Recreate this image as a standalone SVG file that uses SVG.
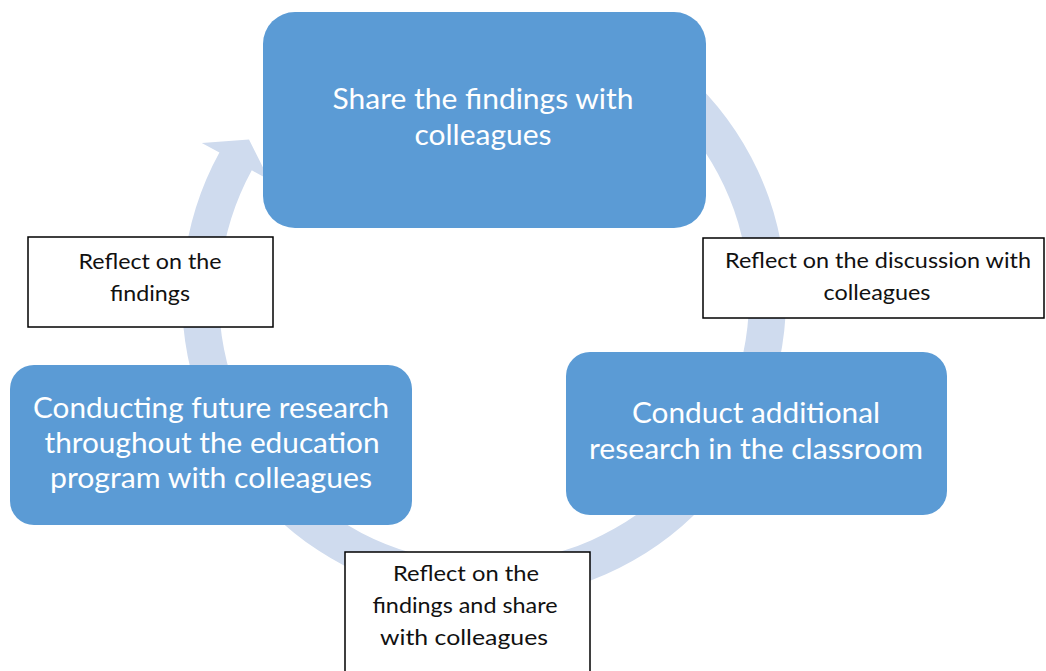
<svg xmlns="http://www.w3.org/2000/svg" width="1046" height="671" viewBox="0 0 1046 671">
  <style>
    .step { fill: #5B9BD5; }
    .step-label { font-family: Lato, "Open Sans", "Liberation Sans", sans-serif; font-size: 29px; fill: #FFFFFF; text-anchor: middle; }
    .note { fill: #FFFFFF; stroke: #000000; stroke-width: 1.5; }
    .note-label { font-family: Lato, "Open Sans", "Liberation Sans", sans-serif; font-size: 21px; fill: #111111; text-anchor: middle; }
    .cycle { fill: #CFDBEE; }
  </style>

  <rect width="1046" height="671" fill="#FFFFFF"/>

  <!-- clockwise cycle arrow behind the steps -->
  <g id="connectors">
    <path class="cycle" d="M 611.6 24.3 A 302 302 0 1 1 219.4 152.5 L 201.8 142.9 L 249 139.5 L 269.3 180 L 251.8 170.3 A 265 265 0 1 0 596 57.8 Z"/>
  </g>

  <g id="step-share">
    <rect class="step" x="263" y="12" width="443" height="216" rx="32" ry="32"/>
    <text class="step-label" x="483" y="109" textLength="301" lengthAdjust="spacingAndGlyphs">Share the findings with</text>
    <text class="step-label" x="483" y="145" textLength="137" lengthAdjust="spacingAndGlyphs">colleagues</text>
  </g>

  <g id="step-research">
    <rect class="step" x="566" y="352" width="381" height="163" rx="24" ry="24"/>
    <text class="step-label" x="756" y="423" textLength="248" lengthAdjust="spacingAndGlyphs">Conduct additional</text>
    <text class="step-label" x="756" y="459" textLength="334" lengthAdjust="spacingAndGlyphs">research in the classroom</text>
  </g>

  <g id="step-future">
    <rect class="step" x="10" y="365" width="402" height="160" rx="24" ry="24"/>
    <text class="step-label" x="211" y="418" textLength="356" lengthAdjust="spacingAndGlyphs">Conducting future research</text>
    <text class="step-label" x="212" y="453" textLength="335" lengthAdjust="spacingAndGlyphs">throughout the education</text>
    <text class="step-label" x="211" y="488" textLength="322" lengthAdjust="spacingAndGlyphs">program with colleagues</text>
  </g>

  <g id="note-reflect-findings">
    <rect class="note" x="28" y="237" width="245" height="90"/>
    <text class="note-label" x="150" y="269" textLength="143" lengthAdjust="spacingAndGlyphs">Reflect on the</text>
    <text class="note-label" x="150" y="301" textLength="80" lengthAdjust="spacingAndGlyphs">findings</text>
  </g>

  <g id="note-reflect-discussion">
    <rect class="note" x="703" y="238" width="341" height="80"/>
    <text class="note-label" x="878" y="268" textLength="306" lengthAdjust="spacingAndGlyphs">Reflect on the discussion with</text>
    <text class="note-label" x="877" y="300" textLength="107" lengthAdjust="spacingAndGlyphs">colleagues</text>
  </g>

  <g id="note-reflect-share">
    <rect class="note" x="345" y="552" width="245" height="130"/>
    <text class="note-label" x="466" y="581" textLength="146" lengthAdjust="spacingAndGlyphs">Reflect on the</text>
    <text class="note-label" x="465" y="613" textLength="185" lengthAdjust="spacingAndGlyphs">findings and share</text>
    <text class="note-label" x="464" y="645" textLength="168" lengthAdjust="spacingAndGlyphs">with colleagues</text>
  </g>
</svg>
